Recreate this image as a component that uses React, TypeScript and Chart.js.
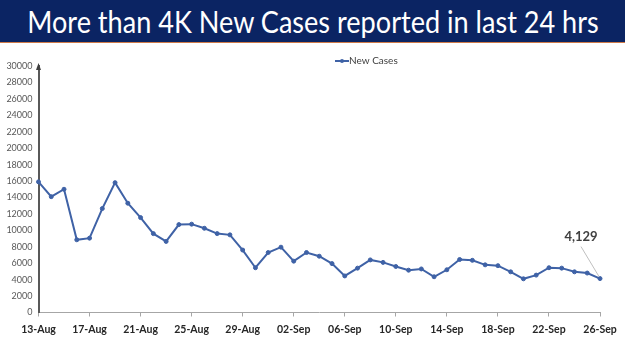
import React, { useEffect, useRef, useState } from "react";
import { Chart, registerables } from "chart.js";

Chart.register(...registerables);

const titleText = "More than 4K New Cases reported in last 24 hrs";
const seriesLabel = "New Cases";

const dates = [
  "13-Aug", "14-Aug", "15-Aug", "16-Aug", "17-Aug", "18-Aug", "19-Aug", "20-Aug",
  "21-Aug", "22-Aug", "23-Aug", "24-Aug", "25-Aug", "26-Aug", "27-Aug", "28-Aug",
  "29-Aug", "30-Aug", "31-Aug", "01-Sep", "02-Sep", "03-Sep", "04-Sep", "05-Sep",
  "06-Sep", "07-Sep", "08-Sep", "09-Sep", "10-Sep", "11-Sep", "12-Sep", "13-Sep",
  "14-Sep", "15-Sep", "16-Sep", "17-Sep", "18-Sep", "19-Sep", "20-Sep", "21-Sep",
  "22-Sep", "23-Sep", "24-Sep", "25-Sep", "26-Sep",
];

const newCases = [
  15900, 14100, 15000, 8850, 9050, 12650, 15800, 13300,
  11550, 9600, 8650, 10700, 10750, 10250, 9600, 9450,
  7600, 5450, 7300, 7950, 6250, 7300, 6850, 5950,
  4450, 5400, 6400, 6100, 5600, 5150, 5300, 4350,
  5200, 6450, 6350, 5800, 5700, 4950, 4100, 4550,
  5450, 5400, 4950, 4800, 4129,
];

const yMin = 0;
const yMax = 30000;
const yStep = 2000;
const labelEvery = 4;

const LINE = "#3f62a6";
const TITLE_WIDTH = 572;

export default function App() {
  const ref = useRef<HTMLCanvasElement | null>(null);
  const [titleScale, setTitleScale] = useState(1);

  useEffect(() => {
    document.body.style.margin = "0";
    const m = document.createElement("canvas").getContext("2d");
    if (m) {
      m.font = "30px Lato";
      const w = m.measureText(titleText).width;
      if (w > 0) setTitleScale(TITLE_WIDTH / w);
    }
    const canvas = ref.current;
    if (!canvas) return;

    const overlay = {
      id: "overlay",
      afterDraw(chart: any) {
        const ctx = chart.ctx;
        const { left, top } = chart.chartArea;
        ctx.save();
        // y-axis arrow
        ctx.fillStyle = "#404040";
        ctx.beginPath();
        ctx.moveTo(left, top - 3);
        ctx.lineTo(left - 2.5, top + 4);
        ctx.lineTo(left + 2.5, top + 4);
        ctx.closePath();
        ctx.fill();

        // legend
        const lx = 335;
        const ly = 61;
        ctx.strokeStyle = LINE;
        ctx.lineWidth = 2;
        ctx.beginPath();
        ctx.moveTo(lx, ly);
        ctx.lineTo(lx + 14, ly);
        ctx.stroke();
        ctx.fillStyle = LINE;
        ctx.beginPath();
        ctx.arc(lx + 7, ly, 2, 0, Math.PI * 2);
        ctx.fill();
        ctx.fillStyle = "#404040";
        ctx.font = "10px Lato";
        ctx.textAlign = "left";
        ctx.textBaseline = "middle";
        ctx.fillText(chart.data.datasets[0].label, lx + 14, ly);

        // last value annotation
        const meta = chart.getDatasetMeta(0);
        const last = meta.data.length - 1;
        const pt = meta.data[last];
        const val = chart.data.datasets[0].data[last] as number;
        ctx.strokeStyle = "#bfbfbf";
        ctx.lineWidth = 1;
        ctx.beginPath();
        ctx.moveTo(pt.x - 19, pt.y - 32);
        ctx.lineTo(pt.x - 1, pt.y - 2);
        ctx.stroke();
        ctx.fillStyle = "#404040";
        ctx.font = "bold 13px Lato";
        ctx.textAlign = "center";
        ctx.textBaseline = "middle";
        ctx.fillText(val.toLocaleString("en-US"), pt.x - 19, pt.y - 42);
        ctx.restore();
      },
    };

    const chart = new Chart(canvas, {
      type: "line",
      data: {
        labels: dates,
        datasets: [
          {
            label: seriesLabel,
            data: newCases,
            borderColor: LINE,
            backgroundColor: LINE,
            borderWidth: 2,
            pointRadius: 2,
            pointBorderWidth: 1,
            pointBackgroundColor: LINE,
            pointBorderColor: LINE,
            tension: 0,
          },
        ],
      },
      options: {
        responsive: false,
        animation: false,
        layout: { padding: { top: 66, right: 25, left: 0, bottom: 0 } },
        plugins: {
          legend: { display: false },
          tooltip: { enabled: false },
          title: { display: false },
        },
        scales: {
          x: {
            type: "category",
            offset: false,
            afterFit: (s: any) => {
              s.height = 38.5;
            },
            border: { color: "#a6a6a6", width: 1 },
            grid: {
              display: true,
              drawOnChartArea: false,
              drawTicks: true,
              tickLength: 4,
              color: (c: any) => (c.index % labelEvery === 0 ? "#a6a6a6" : "rgba(0,0,0,0)"),
            },
            ticks: {
              autoSkip: false,
              maxRotation: 0,
              minRotation: 0,
              padding: 7,
              color: "#262626",
              font: { family: "Lato", size: 10.5, weight: "bold" },
              callback: (_v: any, i: number) => (i % labelEvery === 0 ? dates[i] : ""),
            },
          },
          y: {
            min: yMin,
            max: yMax,
            afterFit: (s: any) => {
              s.width = 38.5;
            },
            border: { color: "#595959", width: 2 },
            grid: { display: false, drawTicks: false },
            ticks: {
              stepSize: yStep,
              padding: 6,
              color: "#595959",
              font: { family: "Lato", size: 9 },
              callback: (v: any) => String(v),
            },
          },
        },
      },
      plugins: [overlay],
    });

    return () => chart.destroy();
  }, []);

  return (
    <div style={{ position: "relative", width: 625, height: 351, background: "#fff", overflow: "hidden" }}>
      <canvas ref={ref} width={625} height={351} style={{ position: "absolute", left: 0, top: 0 }} />
      <div
        style={{
          position: "absolute",
          left: 0,
          top: 0,
          width: 625,
          height: 42,
          background: "#0b2463",
          borderBottom: "1.5px solid #cf7a48",
          overflow: "hidden",
        }}
      >
        <span
          style={{
            position: "absolute",
            left: "50%",
            top: 0,
            transform: `translateX(-50%) scaleX(${titleScale})`,
            transformOrigin: "center",
            color: "#ffffff",
            fontFamily: "Lato, sans-serif",
            fontSize: 30,
            lineHeight: "42px",
            whiteSpace: "nowrap",
          }}
        >
          {titleText}
        </span>
      </div>
    </div>
  );
}
